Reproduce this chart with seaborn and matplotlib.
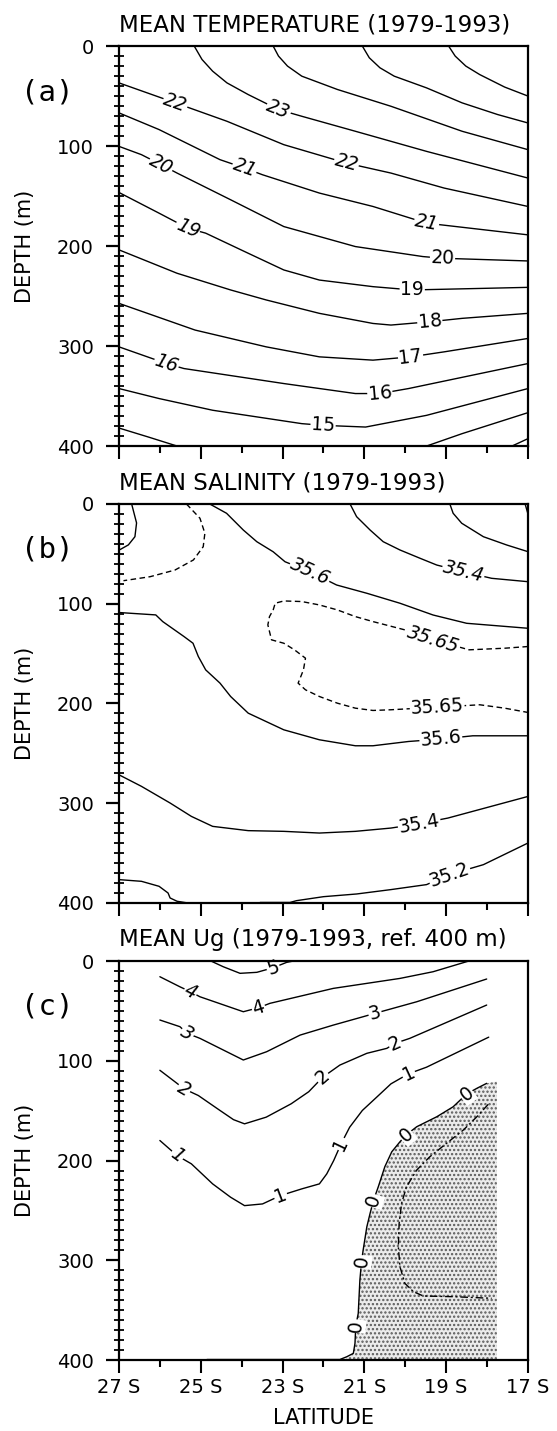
import numpy as np
import pandas as pd
import matplotlib
matplotlib.use("Agg")
import matplotlib.pyplot as plt
import seaborn as sns

# Latitude in degrees (negative = south), depth in m.
# Each contour is stored as a polyline.

# ---- (a) mean temperature, deg C
temp_levels = [26, 25, 24, 23, 22, 21, 20, 19, 18, 17, 16, 15, 14, 14, 13]
temp_lat = [
    [-18.94, -18.78, -18.52, -18.18, -17.57, -17.0],
    [-21.05, -20.88, -20.62, -20.27, -19.48, -18.61, -17.74, -17.0],
    [-23.23, -23.10, -22.88, -22.53, -21.66, -20.35, -18.61, -17.0],
    [-25.16, -24.97, -24.71, -24.36, -23.84, -23.10, -22.53, -21.22, -19.48, -17.0],
    [-27.0, -25.62, -24.36, -22.97, -21.44, -20.35, -19.05, -17.0],
    [-27.0, -26.02, -24.53, -23.93, -23.49, -22.10, -20.79, -19.48, -17.0],
    [-27.0, -26.45, -25.97, -25.58, -24.27, -22.97, -21.22, -19.57, -19.09, -17.0],
    [-27.0, -26.02, -25.32, -24.88, -23.84, -22.97, -22.10, -20.79, -19.83, -17.0],
    [-27.0, -25.58, -24.27, -23.40, -22.10, -20.79, -20.35, -19.40, -18.61, -17.0],
    [-27.0, -25.14, -23.40, -22.10, -20.79, -19.87, -19.05, -17.0],
    [-27.0, -25.84, -25.41, -22.97, -21.22, -20.62, -19.92, -17.0],
    [-27.0, -26.02, -24.71, -22.53, -22.01, -20.97, -19.48, -17.0],
    [-27.0, -26.28, -25.58],
    [-19.48, -18.61, -17.0],
    [-17.39, -17.0],
]
temp_depth = [
    [0, 10, 20, 28.5, 41, 50],
    [0, 11.7, 21.7, 30.1, 41.8, 56.8, 68.5, 76.9],
    [0, 10, 20, 30.1, 43.4, 60.2, 85.2, 103.6],
    [0, 13.4, 25.1, 36.8, 48.5, 63.5, 70.2, 85.2, 105.3, 132.0],
    [36.8, 56.8, 75.2, 98.6, 117.0, 127.0, 142.0, 160.4],
    [66.8, 83.5, 113.6, 122.0, 128.7, 147.0, 160.4, 177.1, 188.8],
    [100.3, 108.6, 118.6, 127.0, 153.7, 180.5, 200.5, 210.5, 212.2, 214.9],
    [146.4, 167.1, 182.1, 187.1, 207.2, 223.9, 234.0, 240.6, 243.9, 241.3],
    [203.8, 227.2, 243.9, 253.9, 267.3, 277.4, 279.0, 275.7, 272.3, 267.3],
    [257.3, 284.0, 300.8, 310.8, 314.1, 310.8, 305.8, 292.4],
    [300.8, 317.5, 322.5, 337.5, 347.5, 347.5, 342.5, 317.5],
    [342.5, 352.5, 364.2, 377.6, 379.3, 381.0, 369.3, 342.5],
    [382.0, 391.0, 400.0],
    [400.0, 387.6, 366.6],
    [400.0, 392.6],
]
temp_label_idx = [[], [], [], [5], [1, 4], [3, 7], [2, 8], [2, 8], [7], [5], [1, 5], [4], [], [], []]

# ---- (b) mean salinity
sal_levels = [35.6, 35.65, 35.6, 35.4, 35.2, 35.0, 35.65, 35.6, 35.4, 35.2, 35.2]
sal_dashed_levels = [35.65]
sal_lat = [
    [-26.69, -26.57, -26.61, -26.77, -26.96, -27.0],
    [-25.35, -25.02, -24.90, -24.94, -25.18, -25.63, -26.24, -26.89],
    [-24.78, -24.37, -23.96, -23.63, -23.23, -22.94, -22.33, -21.68, -20.94, -20.13,
     -19.32, -18.50, -17.0],
    [-21.35, -21.19, -20.86, -20.54, -20.13, -19.64, -19.23, -18.58, -17.89, -17.0],
    [-18.91, -18.83, -18.62, -18.09, -17.52, -17.0],
    [-17.07, -17.0],
    [-17.0, -17.57, -18.44, -19.31, -20.01, -20.79, -21.22, -21.66, -22.10, -22.53,
     -22.97, -23.18, -23.23, -23.32, -23.36, -23.27, -22.97, -22.71, -22.44, -22.49,
     -22.57, -22.62, -22.44, -22.10, -21.66, -21.22, -20.79, -20.35, -19.22, -18.18,
     -17.57, -17.0],
    [-27.0, -26.10, -25.93, -25.41, -25.19, -25.06, -24.88, -24.53, -24.27, -23.84,
     -22.97, -22.10, -21.22, -20.79, -19.92, -19.13, -18.35, -17.0],
    [-27.0, -26.45, -25.75, -25.23, -24.71, -23.84, -22.97, -22.10, -21.22, -20.35,
     -19.66, -18.96, -17.0],
    [-23.55, -22.82, -22.66, -22.0, -21.19, -20.35, -19.48, -18.92, -18.09, -17.0],
    [-27.0, -26.45, -26.02, -25.80, -25.75, -25.58, -25.32],
]
sal_depth = [
    [0, 19, 32.8, 41, 45.4, 46.1],
    [0, 14.3, 29.3, 42.8, 56.1, 66.2, 72.9, 76.9],
    [0, 9.3, 26.1, 37.8, 47.9, 57.9, 67.9, 81.2, 89.5, 99.5, 111.3, 119.6, 124.6],
    [0, 12.7, 26.1, 37.8, 46.1, 54.4, 61.2, 67.9, 74.5, 77.9],
    [0, 9.3, 19.3, 32.8, 41.1, 47.8],
    [0, 10],
    [142.9, 144.6, 146.2, 136.2, 126.2, 117.9, 112.9, 106.2, 101.2, 97.8,
     97.2, 99.5, 106.2, 112.9, 121.2, 136.2, 139.6, 146.2, 154.6, 166.3,
     174.6, 179.6, 186.3, 193.0, 199.7, 204.7, 207.0, 206.3, 203.7, 201.3,
     204.7, 209.0],
    [108.8, 111.2, 117.9, 132.9, 139.6, 152.9, 166.3, 179.6, 193.0, 209.7,
     226.4, 236.4, 242.4, 242.4, 238.1, 235.7, 232.4, 232.4],
    [271.5, 283.1, 299.8, 313.2, 323.2, 327.5, 328.2, 329.9, 328.2, 324.9,
     320.5, 314.9, 293.2],
    [399.5, 399.5, 397.7, 393.7, 391.0, 386.6, 381.6, 371.6, 361.6, 339.9],
    [376.6, 378.3, 383.3, 390.0, 395.0, 398.3, 400.0],
]
sal_label_idx = [[], [], [6], [7], [], [], [3, 28], [15], [10], [7], []]

# ---- (c) mean geostrophic velocity Ug, ref. 400 m (cm/s)
ug_levels = [5, 4, 3, 2, 1, 0, -1]
ug_dashed_levels = [-1]
ug_east_edge = -17.76  # eastern limit of the Ug section
ug_lat = [
    [-24.75, -24.45, -24.04, -23.63, -23.23, -22.90, -22.74],
    [-26.0, -25.51, -25.25, -25.02, -23.96, -23.59, -23.31, -21.76, -20.13, -19.32, -18.45],
    [-26.0, -25.51, -25.33, -25.02, -23.96, -23.39, -22.57, -21.76, -21.03, -20.74,
     -20.45, -19.72, -18.01],
    [-26.0, -25.6, -25.41, -25.06, -24.53, -24.2, -23.93, -23.40, -22.79, -22.36,
     -22.02, -21.6, -20.94, -20.45, -20.25, -19.89, -18.01],
    [-26.0, -25.58, -25.23, -24.71, -24.27, -23.93, -23.49, -23.05, -22.53, -22.10,
     -21.92, -21.75, -21.57, -21.36, -21.05, -20.70, -20.35, -19.92, -19.48, -17.96],
    [-24.85, -21.60, -21.43, -21.27, -21.23, -21.21, -21.15, -21.11, -21.07, -21.03,
     -20.94, -20.86, -20.78, -20.66, -20.50, -20.33, -20.13, -19.98, -19.72, -19.23,
     -18.83, -18.50, -18.25, -18.01],
    [-17.97, -18.25, -18.58, -18.99, -19.40, -19.72, -19.97, -20.09, -20.15, -20.17,
     -20.13, -20.01, -19.80, -19.56, -18.83, -17.89],
]
ug_depth = [
    [0, 5.7, 12.3, 11.3, 6.7, 1.3, 0],
    [15.7, 25.8, 30.8, 35.8, 50.8, 46.8, 42.4, 27.4, 17.4, 10.7, 0],
    [59.1, 65.8, 72.5, 77.5, 99.2, 90.9, 74.2, 64.2, 55.8, 52.4, 49.1, 40.8, 18.0],
    [109.5, 122, 128.1, 134.8, 149.8, 159, 163.2, 156.5, 143.1, 131,
     116.5, 104.3, 92.5, 87.5, 82.5, 77.5, 44.1],
    [179.9, 195, 203.3, 223.4, 236.8, 245.2, 243.5, 235.1, 228.4, 223.4,
     213.4, 200.0, 183.3, 166.6, 149.8, 136.5, 123.1, 113.0, 106.4, 76.3],
    [399.5, 399.5, 396.7, 393.3, 383.3, 365.9, 353.2, 319.8, 301.5, 289.7,
     266.4, 252.9, 240.3, 226.3, 206.2, 191.2, 181.2, 174.4, 166.1, 156.1,
     146.1, 133.3, 127.6, 122.6],
    [143.6, 156.1, 169.4, 182.7, 196.2, 209.5, 226.3, 242.9, 263.0, 286.4,
     306.5, 323.1, 331.5, 335.8, 336.5, 338.1],
]
ug_label_idx = [[4], [2, 5], [2, 9], [2, 10, 14], [1, 7, 12, 17], [5, 8, 12, 17, 21], []]

titles = ["MEAN TEMPERATURE (1979-1993)", "MEAN SALINITY (1979-1993)",
          "MEAN Ug (1979-1993, ref. 400 m)"]
letters = ["(a)", "(b)", "(c)"]

sns.set_style("ticks")
plt.rcParams["font.family"] = ["DejaVu Sans"]
plt.rcParams.update({"text.color": "black", "axes.labelcolor": "black",
                     "xtick.color": "black", "ytick.color": "black",
                     "axes.edgecolor": "black", "hatch.linewidth": 1.1})


def to_frame(levels, lats, depths, dashed_levels=()):
    rows = []
    for i, (lev, la, de) in enumerate(zip(levels, lats, depths)):
        kind = "dashed" if lev in dashed_levels else "solid"
        for x, y in zip(la, de):
            rows.append((i, lev, kind, x, y))
    return pd.DataFrame(rows, columns=["line", "level", "kind", "lat", "depth"])


def put_labels(ax, levels, lats, depths, label_idx, fmt):
    for lev, la, de, idxs in zip(levels, lats, depths, label_idx):
        for i in idxs:
            p0 = ax.transData.transform((la[i - 1], de[i - 1]))
            p1 = ax.transData.transform((la[i + 1], de[i + 1]))
            ang = np.degrees(np.arctan2(p1[1] - p0[1], p1[0] - p0[0]))
            if ang > 90:
                ang -= 180
            if ang < -90:
                ang += 180
            ax.text(la[i], de[i], fmt(lev), rotation=ang, rotation_mode="anchor",
                    ha="center", va="center", fontsize=13.5,
                    fontstyle="italic" if ang < -6 else "normal",
                    bbox=dict(facecolor="white", edgecolor="none", pad=0.6),
                    zorder=4, clip_on=False)


fig = plt.figure(figsize=(5.57, 14.31), dpi=100)
rects = [[0.2136, 0.6883, 0.7343, 0.2795],
         [0.2136, 0.3690, 0.7343, 0.2788],
         [0.2136, 0.0496, 0.7343, 0.2788]]
axes = [fig.add_axes(r) for r in rects]

panels = [
    (temp_levels, temp_lat, temp_depth, temp_label_idx, (), {"solid": ""}, lambda v: f"{v:d}"),
    (sal_levels, sal_lat, sal_depth, sal_label_idx, sal_dashed_levels,
     {"solid": "", "dashed": (4, 2.5)}, lambda v: f"{v:g}"),
    (ug_levels, ug_lat, ug_depth, ug_label_idx, ug_dashed_levels,
     {"solid": "", "dashed": (5.5, 2.0, 1.5, 2.0)}, lambda v: f"{v:d}"),
]

for k, (ax, (levels, lats, depths, lab_idx, dashed, dash_map, fmt)) in enumerate(zip(axes, panels)):
    ax.set_xlim(-27, -17)
    ax.set_ylim(400, 0)

    if k == 2:
        # stippled area of westward (negative) flow, bounded by the 0 contour
        u0_lat, u0_dep = ug_lat[5], ug_depth[5]
        shade_lat = u0_lat[2:] + [ug_east_edge, ug_east_edge, u0_lat[2]]
        shade_dep = u0_dep[2:] + [u0_dep[-1] - 2, 400, 400]
        ax.fill(shade_lat, shade_dep, facecolor="#ebebeb", edgecolor="#5a5a5a",
                hatch="....", linewidth=0, zorder=1)

    df = to_frame(levels, lats, depths, dashed)
    sns.lineplot(data=df, x="lat", y="depth", units="line", estimator=None, sort=False,
                 style="kind", dashes=dash_map, color="black", linewidth=1.0,
                 legend=False, ax=ax, zorder=3)
    ax.set_xlim(-27, -17)
    ax.set_ylim(400, 0)

    ax.set_xticks(np.arange(-27, -16, 2))
    ax.set_xticks(np.arange(-26, -17, 2), minor=True)
    ax.set_yticks(np.arange(0, 401, 100))
    ax.set_yticks(np.arange(0, 401, 10), minor=True)
    ax.set_xticklabels([f"{-v:d} S" for v in range(-27, -16, 2)])
    ax.tick_params(axis="x", which="major", direction="out", length=9.5, width=1.5,
                   pad=3.5, labelsize=14, labelbottom=(k == 2))
    ax.tick_params(axis="x", which="minor", direction="out", length=5, width=1.5)
    ax.tick_params(axis="y", which="major", direction="out", length=9.5, width=1.6,
                   pad=8.5, labelsize=14)
    ax.tick_params(axis="y", which="minor", direction="inout", length=6.5, width=1.3)
    for sp in ax.spines.values():
        sp.set_visible(True)
        sp.set_linewidth(1.6)
        sp.set_zorder(6)

    ax.set_ylabel("DEPTH (m)", fontsize=15, labelpad=16)
    ax.set_xlabel("LATITUDE" if k == 2 else "", fontsize=15, labelpad=8)
    ax.set_title(titles[k], loc="left", fontsize=16.5, pad=10.5)
    ax.text(-0.175, 0.885, letters[k], transform=ax.transAxes, ha="center", va="center",
            fontsize=21, family="DejaVu Sans Mono")

    put_labels(ax, levels, lats, depths, lab_idx, fmt)

fig.savefig("out.png", dpi=100)
